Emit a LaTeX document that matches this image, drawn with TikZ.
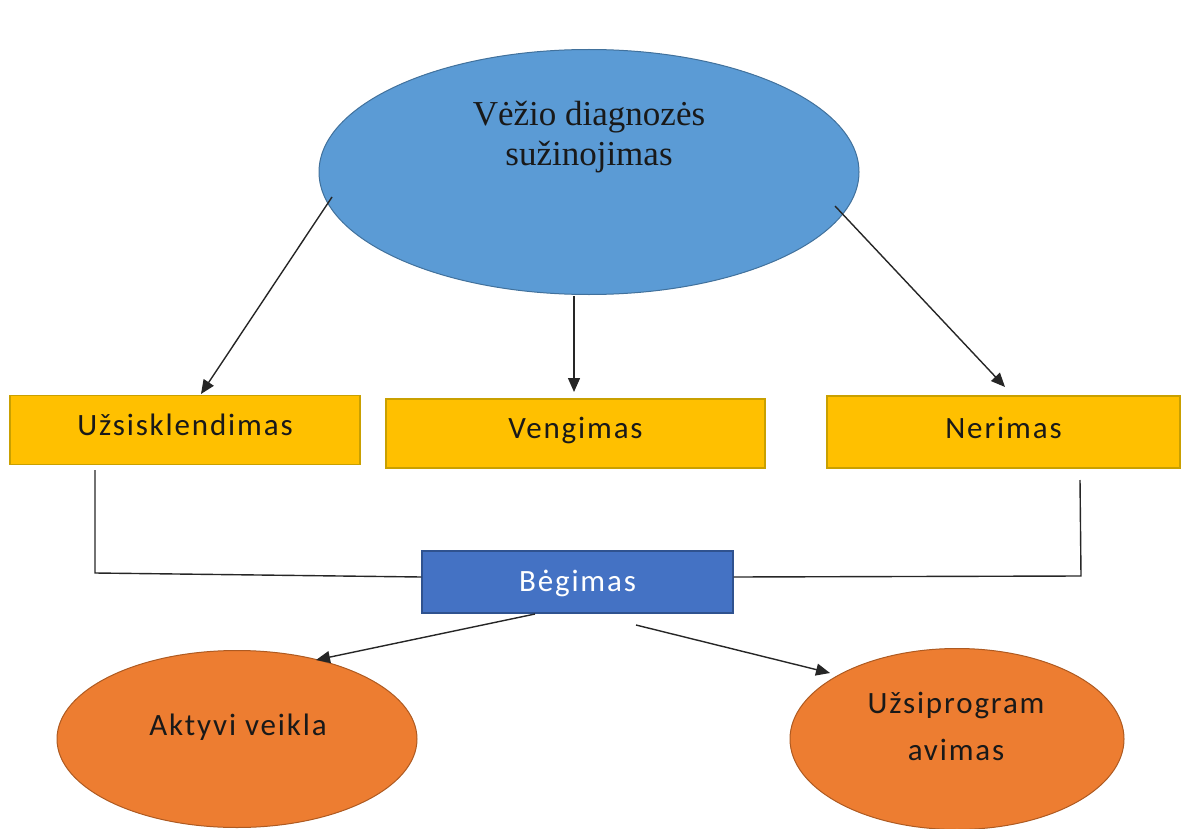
\documentclass[tikz,border=0pt]{standalone}
\usepackage{fontspec}
\setmainfont{Liberation Serif}
\newfontfamily\bodyfont[LetterSpace=6]{Carlito}
\usetikzlibrary{arrows.meta,shapes.geometric}
\definecolor{topblue}{HTML}{5B9BD5}
\definecolor{topedge}{HTML}{41719C}
\definecolor{boxyellow}{HTML}{FFC000}
\definecolor{yellowedge}{HTML}{C9A000}
\definecolor{hubblue}{HTML}{4472C4}
\definecolor{hubedge}{HTML}{2F528F}
\definecolor{leaforange}{HTML}{ED7D31}
\definecolor{orangeedge}{HTML}{AE5A21}
\tikzset{
  ovalshape/.style={ellipse, draw, line width=0.5pt, inner sep=0pt},
  reaction/.style={rectangle, draw=yellowedge, fill=boxyellow, line width=0.6pt, inner sep=0pt},
  hubbox/.style={rectangle, draw=hubedge, fill=hubblue, line width=0.6pt, inner sep=0pt},
  label text/.style={font=\bodyfont\fontsize{15.5}{18}\selectfont, text=black!90},
  link/.style={line width=0.7pt, draw=black!85},
  arrowlink/.style={link, -{Triangle[length=7pt,width=6pt]}}
}
\begin{document}
\begin{tikzpicture}[x=0.5pt,y=-0.5pt]
\useasboundingbox (0,0) rectangle (1183,829);
% central diagnosis oval
\node[ovalshape, draw=topedge, fill=topblue, minimum width=270pt, minimum height=122.5pt] (diag) at (589,172) {};
\node[align=center, font=\fontsize{17.5}{20}\selectfont, text=black!90] (diagtext) at (589,137) {Vėžio diagnozės\\sužinojimas};
% three reactions
\node[reaction, minimum width=175pt, minimum height=34.5pt] (uzs) at (185,430) {};
\node[label text] (uzstext) at (185,425) {Užsisklendimas};
\node[reaction, minimum width=189.5pt, minimum height=34.5pt] (veng) at (575.5,433.5) {};
\node[label text] (vengtext) at (575.5,430) {Vengimas};
\node[reaction, minimum width=176.5pt, minimum height=36pt] (ner) at (1003.5,432) {};
\node[label text] (nertext) at (1003.5,428) {Nerimas};
% running away
\node[hubbox, minimum width=155.5pt, minimum height=31pt] (beg) at (577.5,582) {};
\node[label text, text=white] (begtext) at (577.5,583) {Bėgimas};
% outcomes
\node[ovalshape, draw=orangeedge, fill=leaforange, minimum width=180pt, minimum height=88.5pt] (akt) at (237,739) {};
\node[label text] (akttext) at (238,727) {Aktyvi veikla};
\node[ovalshape, draw=orangeedge, fill=leaforange, minimum width=167pt, minimum height=90.5pt] (uzp) at (957,739) {};
\node[label text, align=center, font=\bodyfont\fontsize{15.5}{23.5}\selectfont] (uzptext) at (956,726) {Užsiprogram\\avimas};
% connector end points
\coordinate (dl) at (332,197);
\coordinate (dm) at (574,296);
\coordinate (dr) at (835,206);
\coordinate (ul) at (201,394);
\coordinate (um) at (574,392);
\coordinate (ur) at (1005,387);
\coordinate (lfoot) at (95,470);
\coordinate (lcorner) at (95,573);
\coordinate (rfoot) at (1080,480);
\coordinate (rcorner) at (1081,576);
\coordinate (bl) at (535,614);
\coordinate (br) at (636,625);
\coordinate (al) at (316,660);
\coordinate (ar) at (830,673);
% arrows from the diagnosis
\draw[arrowlink] (dl) -- (ul);
\draw[arrowlink] (dm) -- (um);
\draw[arrowlink] (dr) -- (ur);
% side reactions join the hub
\draw[link] (lfoot) -- (lcorner) -- (beg.west |- 0,577);
\draw[link] (rfoot) -- (rcorner) -- (beg.east |- 0,577);
% hub to outcomes
\draw[arrowlink] (bl) -- (al);
\draw[arrowlink] (br) -- (ar);
\end{tikzpicture}
\end{document}
